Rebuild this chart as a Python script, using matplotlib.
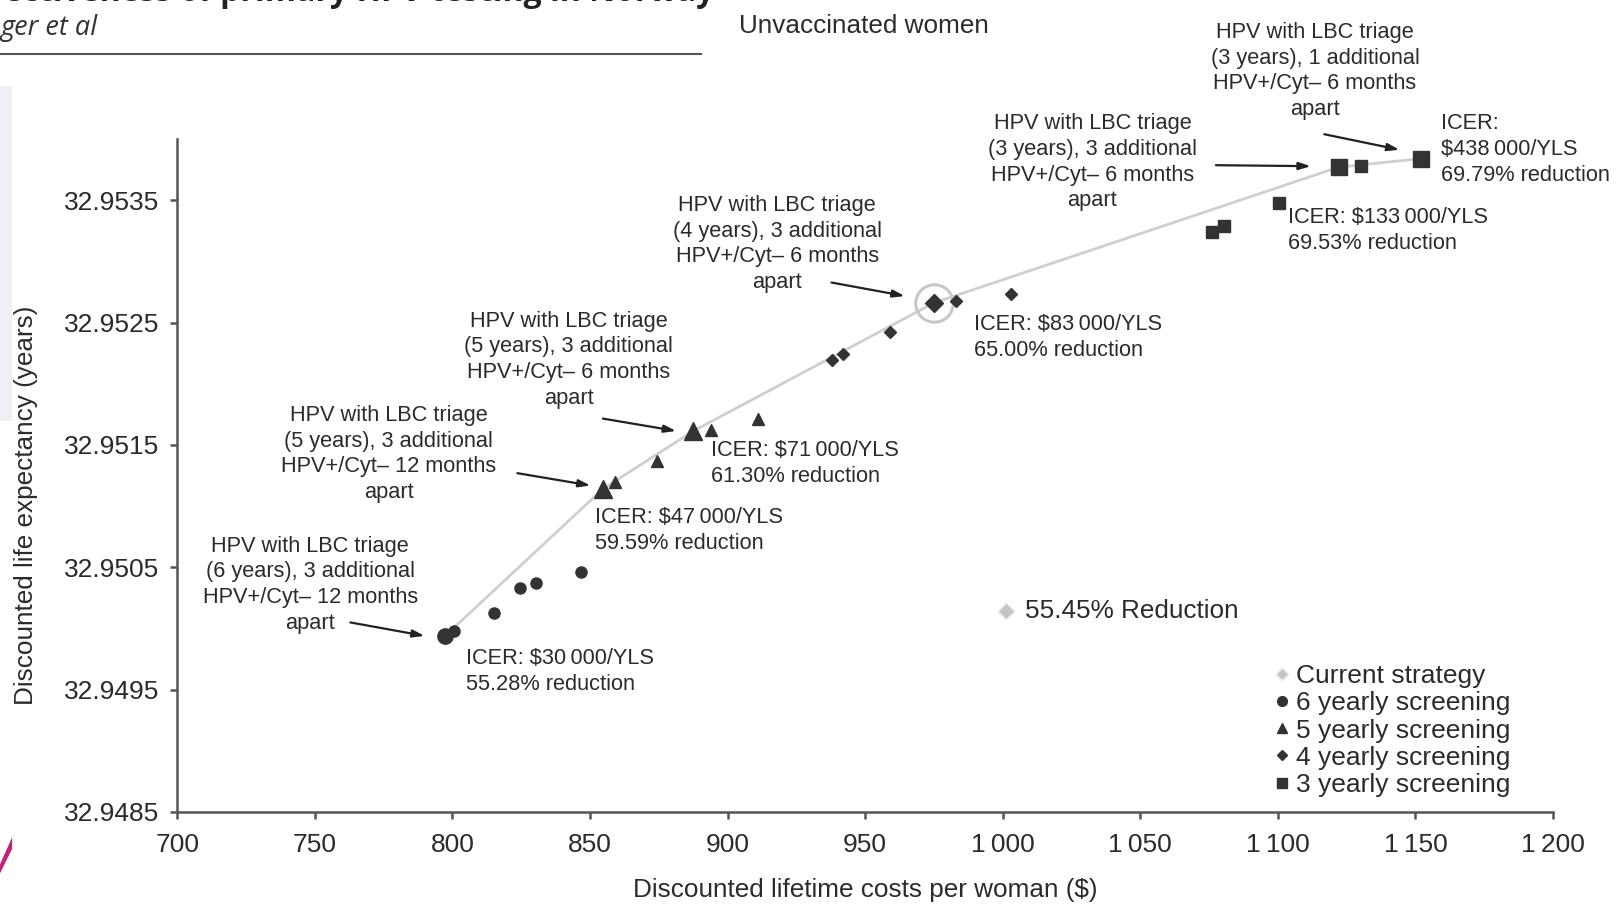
import numpy as np
import matplotlib
matplotlib.use("Agg")
import matplotlib.pyplot as plt
from matplotlib.lines import Line2D
from matplotlib.patches import Rectangle, Polygon

plt.rcParams['font.family'] = ['Liberation Sans', 'DejaVu Sans']

# discounted lifetime costs ($) and life expectancy (years) per screening interval
cost6 = [797.4, 800.7, 815.0, 824.7, 830.3, 846.8]
life6 = [32.94994, 32.94998, 32.95013, 32.95033, 32.95037, 32.95046]
front6 = [True, False, False, False, False, False]

cost5 = [854.7, 859.2, 874.2, 887.3, 894.0, 911.2]
life5 = [32.95114, 32.95120, 32.95137, 32.95161, 32.95162, 32.95171]
front5 = [True, False, False, True, False, False]

cost4 = [937.8, 942.0, 959.2, 974.9, 983.1, 1003.0]
life4 = [32.95219, 32.95224, 32.95242, 32.95266, 32.95268, 32.95273]
front4 = [False, False, False, True, False, False]

cost3 = [1076.0, 1080.5, 1100.4, 1122.1, 1130.3, 1152.1]
life3 = [32.95324, 32.95329, 32.95348, 32.95377, 32.95378, 32.95384]
front3 = [False, False, False, True, False, True]

current_cost = 1001.1
current_life = 32.950141
current_label = "55.45% Reduction"

# efficient frontier
frontier_cost = [797.4, 854.7, 887.3, 974.9, 1122.1, 1152.1]
frontier_life = [32.94994, 32.95114, 32.95161, 32.95266, 32.95377, 32.95384]

strategy_labels = [
    "HPV with LBC triage\n(6 years), 3 additional\nHPV+/Cyt\u2013 12 months\napart",
    "HPV with LBC triage\n(5 years), 3 additional\nHPV+/Cyt\u2013 12 months\napart",
    "HPV with LBC triage\n(5 years), 3 additional\nHPV+/Cyt\u2013 6 months\napart",
    "HPV with LBC triage\n(4 years), 3 additional\nHPV+/Cyt\u2013 6 months\napart",
    "HPV with LBC triage\n(3 years), 3 additional\nHPV+/Cyt\u2013 6 months\napart",
    "HPV with LBC triage\n(3 years), 1 additional\nHPV+/Cyt\u2013 6 months\napart",
]
icer_labels = [
    "ICER: $30\u2009000/YLS\n55.28% reduction",
    "ICER: $47\u2009000/YLS\n59.59% reduction",
    "ICER: $71\u2009000/YLS\n61.30% reduction",
    "ICER: $83\u2009000/YLS\n65.00% reduction",
    "ICER: $133\u2009000/YLS\n69.53% reduction",
    "ICER:\n$438\u2009000/YLS\n69.79% reduction",
]

xticks = [700, 750, 800, 850, 900, 950, 1000, 1050, 1100, 1150, 1200]
xtick_labels = ["700", "750", "800", "850", "900", "950",
                "1\u2009000", "1\u2009050", "1\u2009100", "1\u2009150", "1\u2009200"]
yticks = [32.9485, 32.9495, 32.9505, 32.9515, 32.9525, 32.9535]

# annotation placement (data coords)
label_pos = [(748.3, 32.950356), (776.8, 32.951425), (842.3, 32.952195),
             (918.0, 32.953142), (1032.6, 32.953811), (1113.5, 32.954556)]
arrow_tail = [(762.9, 32.950049), (823.6, 32.951269), (854.7, 32.951715),
              (937.8, 32.952827), (1077.5, 32.953786), (1116.9, 32.954039)]
arrow_head = [(789.9, 32.949939), (850.2, 32.951168), (881.3, 32.951614),
              (964.4, 32.952717), (1112.0, 32.953778), (1144.2, 32.953912)]
icer_pos = [(804.9, 32.949645), (851.7, 32.950798), (894.0, 32.951349),
            (989.5, 32.952376), (1103.7, 32.953252), (1159.2, 32.953912)]

ink = '#2b2b2b'
mark = '#333333'

fig = plt.figure(figsize=(16.16, 9.05), dpi=100)
ax = fig.add_axes([0.1097, 0.1028, 0.8513, 0.7436])

ax.plot(frontier_cost, frontier_life, color='#cfcfcf', lw=2, zorder=1)

groups = [(cost6, life6, front6, 'o', 8, 11),
          (cost5, life5, front5, '^', 9, 13),
          (cost4, life4, front4, 'D', 6, 9.5),
          (cost3, life3, front3, 's', 8, 11)]
for c, l, f, m, small, big in groups:
    c = np.array(c)
    l = np.array(l)
    f = np.array(f)
    ax.plot(c[~f], l[~f], ls='none', marker=m, ms=small, color=mark, zorder=3)
    ax.plot(c[f], l[f], ls='none', marker=m, ms=big, color=mark, zorder=3)

# circle around 4-yearly frontier point
ax.plot([cost4[3]], [life4[3]], ls='none', marker='o', ms=27, mfc='none',
        mec='#c8c8c8', mew=2.2, zorder=2)

# current strategy
ax.plot([current_cost], [current_life], ls='none', marker='D', ms=8,
        mfc='#c4c4c4', mec='#e2e2e2', zorder=3)
ax.annotate(current_label, (current_cost, current_life), xytext=(14, 0),
            textcoords='offset points', va='center', ha='left',
            fontsize=18.8, color=ink)

for i in range(6):
    ax.text(label_pos[i][0], label_pos[i][1], strategy_labels[i], ha='center',
            va='center', fontsize=15.7, color=ink, linespacing=1.3, clip_on=False)
    ax.annotate('', xy=arrow_head[i], xytext=arrow_tail[i], annotation_clip=False,
                arrowprops=dict(arrowstyle='-|>,head_length=0.7,head_width=0.22',
                                color='#222222', lw=1.6, shrinkA=0, shrinkB=0))
    ax.text(icer_pos[i][0], icer_pos[i][1], icer_labels[i], ha='left',
            va='center', fontsize=15.7, color=ink, linespacing=1.3, clip_on=False)

ax.set_xlim(700, 1200)
ax.set_ylim(32.9485, 32.9540)
ax.set_xticks(xticks)
ax.set_xticklabels(xtick_labels)
ax.set_yticks(yticks)
ax.set_yticklabels(["%.4f" % v for v in yticks])
for s in ['top', 'right']:
    ax.spines[s].set_visible(False)
for s in ['left', 'bottom']:
    ax.spines[s].set_color('#555555')
    ax.spines[s].set_linewidth(1.8)
ax.tick_params(axis='both', colors='#555555', labelcolor=ink, labelsize=19,
               length=5, width=1.8, direction='out')
ax.tick_params(axis='x', pad=10)
ax.tick_params(axis='y', pad=8)

ax.set_xlabel("Discounted lifetime costs per woman ($)", fontsize=18.8, color=ink)
ax.xaxis.set_label_coords(0.5, -0.098)
ax.set_ylabel("Discounted life expectancy (years)", fontsize=18.8, color=ink)
ax.yaxis.set_label_coords(-0.101, 0.455)

handles = [
    Line2D([], [], ls='none', marker='D', ms=6, mfc='#c4c4c4', mec='#e2e2e2'),
    Line2D([], [], ls='none', marker='o', ms=7, color=mark),
    Line2D([], [], ls='none', marker='^', ms=7, color=mark),
    Line2D([], [], ls='none', marker='D', ms=5, color=mark),
    Line2D([], [], ls='none', marker='s', ms=7, color=mark),
]
names = ["Current strategy", "6 yearly screening", "5 yearly screening",
         "4 yearly screening", "3 yearly screening"]
ax.legend(handles, names, loc='lower right', bbox_to_anchor=(0.9822, -0.005),
          frameon=False, fontsize=19, handlelength=0.5, handletextpad=0.25,
          labelspacing=0.12, borderpad=0.2, labelcolor=ink)

fig.text(0.5345, 0.971, "Unvaccinated women", ha='center', va='center',
         fontsize=18.8, color=ink)

# journal page remnants
fig.text(0.0, 0.969, "ger et al", ha='left', va='center', fontsize=19.5,
         family=['Open Sans', 'DejaVu Sans'], style='italic', color='#333333')
fig.text(-0.025, 0.990, "effectiveness of primary HPV testing in Norway",
         ha='left', va='bottom', fontsize=23, family=['Open Sans', 'DejaVu Sans'],
         weight='bold', color='#222222')
fig.add_artist(Line2D([0, 0.434], [0.9405, 0.9405], color='#555555', lw=1.5,
                      transform=fig.transFigure))
fig.add_artist(Rectangle((0, 0.535), 0.0075, 0.37, transform=fig.transFigure,
                         color='#eef0f4', lw=0))
fig.add_artist(Polygon([(0, 0.045), (0.0075, 0.075), (0.0075, 0.062), (0, 0.035)],
                       closed=True, transform=fig.transFigure, color='#c2227a', lw=0))

fig.savefig('out.png', dpi=100)
